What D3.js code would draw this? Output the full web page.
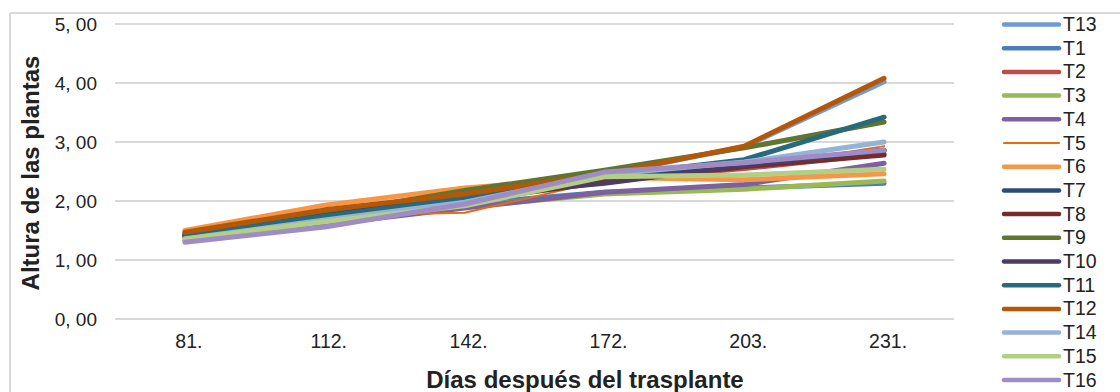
<!DOCTYPE html>
<html>
<head>
<meta charset="utf-8">
<script src="https://cdn.jsdelivr.net/npm/d3@7"></script>
<style>
  html, body { margin: 0; padding: 0; background: #fff; }
  svg { display: block; font-family: "Liberation Sans", Arial, sans-serif; }
</style>
</head>
<body>
<svg id="chart" width="1120" height="392"></svg>
<script>
// Days after transplant (category axis)
const days = ["81.", "112.", "142.", "172.", "203.", "231."];
const yTicks = [0, 1, 2, 3, 4, 5];

// Series order (also drawing and legend order)
const seriesNames = ["T13", "T1", "T2", "T3", "T4", "T5", "T6", "T7", "T8",
                     "T9", "T10", "T11", "T12", "T14", "T15", "T16"];

// Plant height per treatment
const T13 = [1.40, 1.70, 2.00, 2.45, 2.92, 4.02];
const T1  = [1.38, 1.65, 1.95, 2.15, 2.22, 2.30];
const T2  = [1.42, 1.72, 2.02, 2.35, 2.55, 2.80];
const T3  = [1.38, 1.62, 1.90, 2.12, 2.20, 2.34];
const T4  = [1.33, 1.60, 1.88, 2.15, 2.28, 2.64];
const T5  = [1.44, 1.75, 1.80, 2.35, 2.55, 2.93];
const T6  = [1.50, 1.93, 2.22, 2.40, 2.36, 2.46];
const T7  = [1.46, 1.80, 2.10, 2.40, 2.62, 2.86];
const T8  = [1.42, 1.72, 2.00, 2.32, 2.58, 2.78];
const T9  = [1.43, 1.78, 2.18, 2.52, 2.90, 3.34];
const T10 = [1.40, 1.75, 2.08, 2.30, 2.60, 2.86];
const T11 = [1.42, 1.74, 2.05, 2.42, 2.70, 3.42];
const T12 = [1.47, 1.85, 2.12, 2.45, 2.93, 4.08];
const T14 = [1.36, 1.68, 1.98, 2.45, 2.66, 3.00];
const T15 = [1.35, 1.65, 1.92, 2.41, 2.44, 2.54];
const T16 = [1.30, 1.56, 1.95, 2.49, 2.65, 2.86];

const values = {T13, T1, T2, T3, T4, T5, T6, T7, T8, T9, T10, T11, T12, T14, T15, T16};

const colors = {
  T13: "#6f9bd0", T1: "#4a7ebb", T2: "#be4b48", T3: "#98b954", T4: "#7d60a0",
  T5: "#e46c0a", T6: "#f79646", T7: "#2c4d75", T8: "#772c2a", T9: "#5f7530",
  T10: "#4d3b62", T11: "#276a7c", T12: "#b65708", T14: "#95b3d7",
  T15: "#b3cf84", T16: "#a08cc4"
};
const widths = { T5: 2 };

const svg = d3.select("#chart");

// Outer frame (top and left edges)
svg.append("line").attr("x1", 10).attr("x2", 1120).attr("y1", 13).attr("y2", 13)
  .attr("stroke", "#d9d9d9").attr("stroke-width", 2);
svg.append("line").attr("x1", 10).attr("x2", 10).attr("y1", 13).attr("y2", 392)
  .attr("stroke", "#d9d9d9").attr("stroke-width", 2);

const plot = { left: 115, right: 954, top: 24, bottom: 319 };

const x = d3.scaleBand().domain(days).range([plot.left, plot.right]);
const y = d3.scaleLinear().domain([0, 5]).range([plot.bottom, plot.top]);

// Horizontal gridlines
svg.append("g").selectAll("line").data(yTicks).join("line")
  .attr("x1", plot.left).attr("x2", plot.right)
  .attr("y1", d => y(d)).attr("y2", d => y(d))
  .attr("stroke", "#d9d9d9").attr("stroke-width", 2);

// Y axis labels
const yAxis = d3.axisLeft(y).tickValues(yTicks)
  .tickFormat(d => d3.format(".2f")(d).replace(".", ", "))
  .tickSize(0).tickPadding(0);
const gy = svg.append("g").attr("transform", "translate(97,0)").call(yAxis);
gy.select(".domain").remove();
gy.selectAll("text").attr("font-size", 19).attr("fill", "#222")
  .attr("font-family", "Liberation Sans, Arial, sans-serif");

// X axis labels
const xAxis = d3.axisBottom(x).tickSize(0).tickPadding(0);
const gx = svg.append("g").attr("transform", "translate(4,334)").call(xAxis);
gx.select(".domain").remove();
gx.selectAll("text").attr("font-size", 19.5).attr("fill", "#222")
  .attr("font-family", "Liberation Sans, Arial, sans-serif");

// Lines
const line = d3.line()
  .x((d, i) => x(days[i]) + x.bandwidth() / 2)
  .y(d => y(d));

svg.append("g").selectAll("path").data(seriesNames).join("path")
  .attr("d", s => line(values[s]))
  .attr("fill", "none")
  .attr("stroke", s => colors[s])
  .attr("stroke-width", s => widths[s] || 5)
  .attr("stroke-linejoin", "round")
  .attr("stroke-linecap", "round");

// Axis titles
svg.append("text").attr("x", 585).attr("y", 388).attr("text-anchor", "middle")
  .attr("font-size", 24).attr("font-weight", "bold").attr("fill", "#222")
  .text("Días después del trasplante");
svg.append("text")
  .attr("transform", "translate(39,173) rotate(-90)")
  .attr("text-anchor", "middle")
  .attr("font-size", 24).attr("font-weight", "bold").attr("fill", "#222")
  .text("Altura de las plantas");

// Legend
const legend = svg.append("g").selectAll("g").data(seriesNames).join("g")
  .attr("transform", (d, i) => `translate(1004,${24.5 + i * 23.7})`);
legend.append("line").attr("x1", 0).attr("x2", 55).attr("y1", 0).attr("y2", 0)
  .attr("stroke", d => colors[d])
  .attr("stroke-width", d => widths[d] || 4.5)
  .attr("stroke-linecap", "round");
legend.append("text").attr("x", 59).attr("y", 6.5).attr("font-size", 19.5)
  .attr("fill", "#222").text(d => d);
</script>
</body>
</html>
